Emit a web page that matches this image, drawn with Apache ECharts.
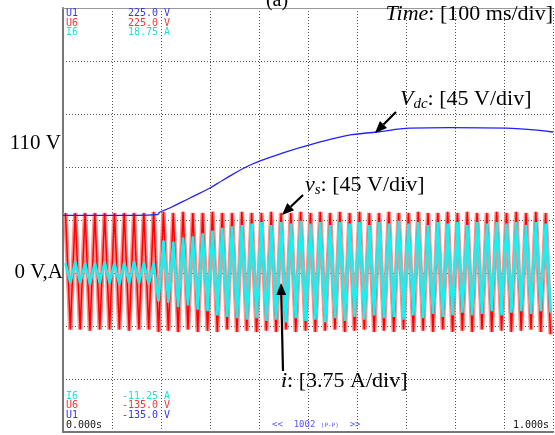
<!DOCTYPE html>
<html>
<head>
<meta charset="utf-8">
<script src="https://cdn.jsdelivr.net/npm/echarts@6/dist/echarts.min.js"></script>
<style>
  html, body { margin: 0; padding: 0; background: #fff; }
  #chart { width: 555px; height: 435px; }
</style>
</head>
<body>
<div id="chart"></div>
<script>
// half-cycle peak times (ms) for the 50 Hz traces
const peakTimes = [
  5, 15, 25, 35, 45, 55, 65, 75, 85, 95,
  105, 115, 125, 135, 145, 155, 165, 175, 185, 195,
  205, 215, 225, 235, 245, 255, 265, 275, 285, 295,
  305, 315, 325, 335, 345, 355, 365, 375, 385, 395,
  405, 415, 425, 435, 445, 455, 465, 475, 485, 495,
  505, 515, 525, 535, 545, 555, 565, 575, 585, 595,
  605, 615, 625, 635, 645, 655, 665, 675, 685, 695,
  705, 715, 725, 735, 745, 755, 765, 775, 785, 795,
  805, 815, 825, 835, 845, 855, 865, 875, 885, 895,
  905, 915, 925, 935, 945, 955, 965, 975, 985, 995
];

// supply voltage vs (V), peak / trough of each half cycle
const vsPeaks = [
  51, -48, 51, -48, 51, -49, 51, -48, 51, -48,
  51, -48, 51, -49, 51, -48, 51, -48, 52, -50,
  52, -49, 51, -50, 52, -48, 51, -50, 51, -49,
  52, -50, 51, -48, 51, -50, 52, -49, 51, -50,
  51, -49, 52, -50, 51, -48, 51, -50, 52, -49,
  51, -50, 52, -49, 51, -48, 52, -50, 51, -49,
  52, -48, 51, -50, 51, -49, 52, -50, 51, -48,
  51, -50, 52, -49, 51, -50, 51, -48, 52, -50,
  51, -49, 52, -50, 51, -48, 51, -50, 52, -49,
  51, -50, 52, -49, 51, -48, 52, -50, 51, -52
];

// line current i (A), peak / trough of each half cycle
const iPeaks = [
  0.7, -0.7, 0.8, -0.7, 0.7, -0.8, 0.7, -0.7, 0.8, -0.7,
  0.7, -0.8, 0.7, -0.7, 0.8, -0.7, 0.7, -0.8, 0.7, -2.0,
  2.3, -2.1, 2.2, -2.4, 2.5, -2.3, 2.6, -2.6, 2.8, -2.7,
  3.0, -3.0, 3.2, -3.1, 3.3, -3.2, 3.4, -3.3, 3.5, -3.2,
  3.6, -3.4, 3.4, -3.3, 3.6, -3.5, 3.5, -3.2, 3.7, -3.4,
  3.5, -3.3, 3.6, -3.5, 3.4, -3.2, 3.6, -3.4, 3.5, -3.1,
  3.6, -3.3, 3.4, -3.0, 3.6, -3.2, 3.5, -3.1, 3.7, -3.3,
  3.5, -3.0, 3.6, -3.2, 3.4, -2.9, 3.6, -3.1, 3.5, -3.0,
  3.6, -2.8, 3.4, -3.0, 3.6, -2.9, 3.5, -2.7, 3.6, -3.0,
  3.5, -2.8, 3.6, -2.7, 3.4, -2.9, 3.6, -2.7, 3.5, -2.8
];

// dc-link voltage Vdc (V)
const vdcTimes = [0, 50, 100, 150, 192, 198, 218, 259, 300, 327, 382, 449, 518, 586, 641, 708, 790, 906, 1000];
const vdcValues = [49, 49, 49, 49, 49.5, 51.8, 55.2, 63.7, 72.2, 79, 91.7, 101.9, 110.4, 117.2, 119.7, 123, 123.5, 123, 119.7];

// scope scales
const voltTicks = { min: -135, max: 225, step: 45 };
const ampTicks = { min: -11.25, max: 18.75, step: 3.75 };
const timeTicks = { min: 0, max: 1000, step: 100 };

const zip = (xs, ys) => xs.map((x, k) => [x, ys[k]]);

const chart = echarts.init(document.getElementById('chart'));

const mono = '"DejaVu Sans Mono", monospace';
const serif = '"Liberation Serif", "Times New Roman", serif';

function scopeText(x, y, text, color, align) {
  return {
    type: 'text', x: x, y: y, z: 100,
    style: { text: text, fill: color, fontSize: 10, fontFamily: mono, align: align || 'left', verticalAlign: 'middle' }
  };
}

function label(x, y, text, size, align, rich) {
  return {
    type: 'text', x: x, y: y, z: 100,
    style: { text: text, fill: '#000', fontSize: size, fontFamily: serif, align: align || 'left', verticalAlign: 'middle', rich: rich || {} }
  };
}

const it = { fontStyle: 'italic', fontSize: 22, fontFamily: serif, fill: '#000' };
const sub = { fontStyle: 'italic', fontSize: 15, fontFamily: serif, fill: '#000', padding: [10, 0, 0, 0] };
const plain = { fontSize: 22, fontFamily: serif, fill: '#000' };

function arrow(x1, y1, x2, y2) {
  const ang = Math.atan2(y2 - y1, x2 - x1);
  const len = 12, half = 5;
  const bx = x2 - len * Math.cos(ang), by = y2 - len * Math.sin(ang);
  const px = -Math.sin(ang) * half, py = Math.cos(ang) * half;
  return [
    { type: 'line', z: 100, shape: { x1: x1, y1: y1, x2: bx, y2: by }, style: { stroke: '#000', lineWidth: 2.2 } },
    { type: 'polygon', z: 100, shape: { points: [[x2, y2], [bx + px, by + py], [bx - px, by - py]] }, style: { fill: '#000' } }
  ];
}

const option = {
  animation: false,
  grid: { left: 63, right: 2, top: 8, bottom: 3, containLabel: false },
  xAxis: [
    {
      type: 'value', min: timeTicks.min, max: timeTicks.max, interval: timeTicks.step,
      axisLine: { show: true, onZero: false, lineStyle: { color: '#777', width: 2 } },
      axisTick: { show: false },
      axisLabel: { show: false },
      splitLine: { show: true, lineStyle: { color: '#555', width: 1, type: [1, 2] } }
    },
    {
      type: 'value', position: 'top', min: timeTicks.min, max: timeTicks.max,
      axisLine: { show: true, onZero: false, lineStyle: { color: '#999', width: 1 } },
      axisTick: { show: false }, axisLabel: { show: false }, splitLine: { show: false }
    }
  ],
  yAxis: [
    {
      type: 'value', min: voltTicks.min, max: voltTicks.max, interval: voltTicks.step,
      axisLine: { show: true, onZero: false, lineStyle: { color: '#777', width: 2 } },
      axisTick: { show: false },
      axisLabel: { show: false },
      splitLine: { show: true, lineStyle: { color: '#555', width: 1, type: [1, 2] } }
    },
    {
      type: 'value', min: ampTicks.min, max: ampTicks.max, interval: ampTicks.step,
      axisLine: { show: false }, axisTick: { show: false }, axisLabel: { show: false }, splitLine: { show: false }
    }
  ],
  series: [
    {
      name: 'vs glow', type: 'line', data: zip(peakTimes, vsPeaks), showSymbol: false,
      lineStyle: { color: '#ff7a7a', width: 4.5, opacity: 0.85 }, z: 2
    },
    {
      name: 'vs', type: 'line', data: zip(peakTimes, vsPeaks), showSymbol: false,
      lineStyle: { color: '#ff0000', width: 1.5 }, z: 3
    },
    {
      name: 'i', type: 'line', yAxisIndex: 1, data: zip(peakTimes, iPeaks), showSymbol: false,
      lineStyle: { color: '#10f4f4', width: 2.6 }, z: 4
    },
    {
      name: 'Vdc', type: 'line', data: zip(vdcTimes, vdcValues), showSymbol: false, smooth: 0.4,
      lineStyle: { color: '#2020ff', width: 1.3 }, z: 5
    }
  ],
  graphic: [
    // scope readouts
    scopeText(66, 13, 'U1', '#3333ff'), scopeText(158, 13, '225.0', '#3333ff', 'right'), scopeText(164, 13, 'V', '#3333ff'),
    scopeText(66, 23, 'U6', '#ff3333'), scopeText(158, 23, '225.0', '#ff3333', 'right'), scopeText(164, 23, 'V', '#ff3333'),
    scopeText(66, 32, 'I6', '#22dddd'), scopeText(158, 32, '18.75', '#22dddd', 'right'), scopeText(164, 32, 'A', '#22dddd'),
    scopeText(66, 396, 'I6', '#22dddd'), scopeText(158, 396, '-11.25', '#22dddd', 'right'), scopeText(164, 396, 'A', '#22dddd'),
    scopeText(66, 405, 'U6', '#ff3333'), scopeText(158, 405, '-135.0', '#ff3333', 'right'), scopeText(164, 405, 'V', '#ff3333'),
    scopeText(66, 415, 'U1', '#3333ff'), scopeText(158, 415, '-135.0', '#3333ff', 'right'), scopeText(164, 415, 'V', '#3333ff'),
    scopeText(66, 425, '0.000s', '#111'),
    scopeText(549, 425, '1.000s', '#111', 'right'),
    {
      type: 'text', x: 272, y: 425, z: 100,
      style: { text: '<<  1002 {s|(P-P)}  >>', fill: '#5555ff', fontSize: 9, fontFamily: mono, verticalAlign: 'middle',
        rich: { s: { fontSize: 6, fontFamily: mono, fill: '#5555ff' } } }
    },
    // annotations
    label(277, 1, '(a)', 20, 'center'),
    label(553, 14, '{it|Time}{p|: [100 ms/div]}', 22, 'right', { it: it, p: plain }),
    label(61, 143, '110 V', 21, 'right'),
    label(63, 272, '0 V,A', 21, 'right'),
    label(400, 99, '{it|V}{sub|dc}{p|: [45 V/div]}', 22, 'left', { it: it, sub: sub, p: plain }),
    label(305, 185, '{it|v}{sub|s}{p|: [45 V/div]}', 22, 'left', { it: it, sub: sub, p: plain }),
    label(281, 381, '{it|i}{p|: [3.75 A/div]}', 22, 'left', { it: it, p: plain }),
    ...arrow(396, 112, 375, 133),
    ...arrow(303, 195, 282, 215),
    ...arrow(283, 371, 281, 283)
  ]
};

chart.setOption(option);
window.addEventListener('resize', () => chart.resize());
</script>
</body>
</html>
